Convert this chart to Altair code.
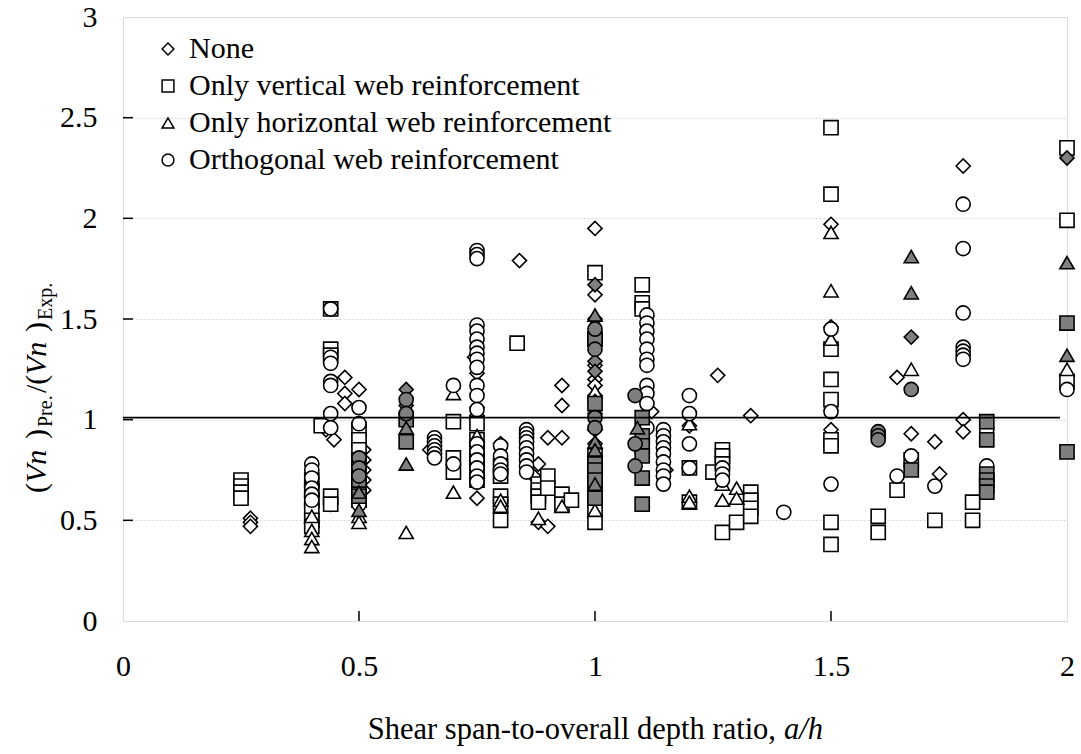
import altair as alt
import pandas as pd

# ---- measured points: a/h and (Vn)pre/(Vn)exp, one pair of lists per marker group ----
none_open_x = [0.27, 0.27, 0.27, 0.40, 0.40, 0.40, 0.44, 0.43, 0.447, 0.47, 0.47, 0.47,
               0.50, 0.50, 0.51, 0.51, 0.51, 0.51, 0.51, 0.65, 0.745, 0.75, 0.75, 0.75, 0.75,
               0.80, 0.84, 0.87, 0.88, 0.88, 0.90, 0.90, 0.93, 0.93, 0.93,
               1.0, 1.0, 1.0, 1.0, 1.0, 1.0, 1.0, 1.0, 1.0, 1.0, 1.0, 1.0, 1.0,
               1.12, 1.15, 1.20, 1.20, 1.26, 1.33, 1.50, 1.50, 1.50, 1.64, 1.67, 1.72, 1.73,
               1.78, 1.78, 1.78]
none_open_y = [0.51, 0.49, 0.47, 0.67, 0.62, 0.58, 0.58, 0.95, 0.90, 1.21, 1.13, 1.08,
               1.15, 0.97, 0.85, 0.80, 0.75, 0.70, 0.65, 0.85, 1.31, 1.23, 1.06, 1.02, 0.61,
               0.88, 1.79, 0.72, 0.78, 0.49, 0.91, 0.47, 1.17, 1.07, 0.91,
               1.95, 1.62, 1.27, 1.20, 1.17, 1.12, 1.03, 0.95, 0.88, 0.78, 0.72, 0.65, 0.57,
               1.04, 0.75, 0.97, 0.76, 1.22, 1.02, 1.97, 1.46, 0.95, 1.21, 0.93, 0.89, 0.73,
               2.26, 1.00, 0.94]

none_grey_x = [0.60, 0.60, 1.0, 1.0, 1.0, 1.0, 1.0, 1.67, 2.0]
none_grey_y = [1.15, 1.07, 1.67, 1.50, 1.29, 1.24, 1.09, 1.41, 2.30]

vert_open_x = [0.25, 0.25, 0.25, 0.25, 0.40, 0.40, 0.40, 0.40, 0.40, 0.40,
               0.44, 0.44, 0.44, 0.44, 0.44, 0.42,
               0.50, 0.50, 0.50, 0.50, 0.50, 0.50, 0.50, 0.50,
               0.70, 0.70, 0.70, 0.75, 0.75, 0.75, 0.75, 0.75, 0.75,
               0.80, 0.80, 0.80, 0.80, 0.80, 0.835, 0.88, 0.88, 0.88, 0.88, 0.90, 0.90,
               0.93, 0.93, 0.95,
               1.0, 1.0, 1.0, 1.0, 1.0, 1.0, 1.0, 1.0, 1.0,
               1.10, 1.10, 1.10, 1.20, 1.20, 1.25, 1.27, 1.27, 1.27, 1.27, 1.30,
               1.33, 1.33, 1.33, 1.33,
               1.50, 1.50, 1.50, 1.50, 1.50, 1.50, 1.50, 1.50, 1.50,
               1.60, 1.60, 1.64, 1.67, 1.72, 1.80, 1.80, 2.0, 2.0, 2.0]
vert_open_y = [0.70, 0.67, 0.64, 0.61, 0.70, 0.65, 0.60, 0.55, 0.50, 0.47,
               0.62, 0.58, 1.55, 1.35, 1.32, 0.97,
               0.95, 0.90, 0.85, 0.80, 0.75, 0.70, 0.65, 0.60,
               0.99, 0.81, 0.74, 0.98, 0.90, 0.85, 0.80, 0.75, 0.70,
               0.77, 0.72, 0.62, 0.58, 0.50, 1.38, 0.68, 0.65, 0.62, 0.59, 0.72, 0.66,
               0.63, 0.58, 0.60,
               1.73, 1.40, 0.82, 0.78, 0.72, 0.66, 0.60, 0.55, 0.49,
               1.67, 1.58, 1.55, 0.76, 0.59, 0.74, 0.85, 0.82, 0.78, 0.44, 0.49,
               0.64, 0.60, 0.56, 0.52,
               2.45, 2.12, 1.35, 1.20, 1.10, 0.90, 0.87, 0.49, 0.38,
               0.52, 0.44, 0.65, 0.80, 0.50, 0.59, 0.50, 2.35, 1.99, 1.19]

vert_grey_x = [0.50, 0.50, 0.60, 0.60, 1.0, 1.0, 1.0, 1.0, 1.0, 1.0,
               1.10, 1.10, 1.10, 1.10, 1.10, 1.10, 1.67,
               1.83, 1.83, 1.83, 1.83, 1.83, 1.83, 2.0, 2.0]
vert_grey_y = [0.70, 0.62, 1.00, 0.89, 1.40, 1.08, 0.78, 0.75, 0.70, 0.61,
               1.01, 0.92, 0.87, 0.82, 0.71, 0.58, 0.75,
               0.99, 0.90, 0.73, 0.70, 0.67, 0.64, 1.48, 0.84]

horiz_open_x = [0.40, 0.40, 0.40, 0.40, 0.50, 0.50, 0.60, 0.70, 0.70, 0.75, 0.75, 0.75,
                0.80, 0.80, 0.88, 0.93, 1.0, 1.0, 1.0, 1.0, 1.20, 1.20, 1.20,
                1.27, 1.27, 1.30, 1.30, 1.50, 1.50, 1.50, 1.67, 2.0]
horiz_open_y = [0.52, 0.45, 0.41, 0.37, 0.52, 0.49, 0.44, 1.13, 0.64, 0.92, 0.83, 0.74,
                0.60, 0.57, 0.51, 0.57, 1.14, 0.98, 0.80, 0.55, 0.98, 0.62, 0.59,
                0.68, 0.60, 0.66, 0.61, 1.93, 1.64, 1.40, 1.25, 1.25]

horiz_grey_x = [0.50, 0.50, 0.60, 0.60, 1.0, 1.0, 1.0, 1.0, 1.09, 1.67, 1.67, 2.0, 2.0]
horiz_grey_y = [0.64, 0.55, 0.96, 0.78, 1.52, 0.89, 0.85, 0.68, 0.96, 1.81, 1.63, 1.78, 1.32]

orth_open_x = [0.40, 0.40, 0.40, 0.40, 0.40, 0.40,
               0.44, 0.44, 0.44, 0.44, 0.44, 0.44, 0.44, 0.50, 0.50, 0.50,
               0.66, 0.66, 0.66, 0.66, 0.66, 0.66, 0.70, 0.70,
               0.75, 0.75, 0.75, 0.75, 0.75, 0.75, 0.75, 0.75, 0.75, 0.75,
               0.75, 0.75, 0.75, 0.75, 0.75, 0.75, 0.75, 0.75, 0.75,
               0.80, 0.80, 0.80, 0.80, 0.80,
               0.855, 0.855, 0.855, 0.855, 0.855, 0.855, 0.855, 0.855, 0.855,
               1.11, 1.11, 1.11, 1.11, 1.11, 1.11, 1.11, 1.11, 1.11, 1.11, 1.11,
               1.145, 1.145, 1.145, 1.145, 1.145, 1.145, 1.145, 1.145, 1.145,
               1.20, 1.20, 1.20, 1.20, 1.27, 1.27, 1.27, 1.40,
               1.50, 1.50, 1.50, 1.64, 1.67, 1.72,
               1.78, 1.78, 1.78, 1.78, 1.78, 1.78, 1.78, 1.83, 1.83, 2.0]
orth_open_y = [0.78, 0.75, 0.71, 0.66, 0.63, 0.60,
               1.55, 1.31, 1.28, 1.19, 1.17, 1.03, 0.96, 1.06, 0.98, 0.58,
               0.91, 0.89, 0.87, 0.85, 0.83, 0.81, 1.17, 0.78,
               1.84, 1.82, 1.80, 1.47, 1.44, 1.40, 1.36, 1.33, 1.30, 1.26,
               1.17, 1.12, 1.05, 0.88, 0.84, 0.80, 0.76, 0.72, 0.69,
               0.87, 0.82, 0.78, 0.75, 0.73,
               0.95, 0.93, 0.91, 0.89, 0.86, 0.83, 0.80, 0.77, 0.74,
               1.52, 1.48, 1.44, 1.40, 1.35, 1.30, 1.27, 1.17, 1.13, 1.08, 0.96,
               0.95, 0.92, 0.89, 0.86, 0.83, 0.79, 0.75, 0.72, 0.68,
               1.12, 1.03, 0.88, 0.76, 0.76, 0.73, 0.70, 0.54,
               1.45, 1.04, 0.68, 0.72, 0.82, 0.67,
               2.07, 1.85, 1.53, 1.36, 1.34, 1.32, 1.30, 0.95, 0.77, 1.15]

orth_grey_x = [0.50, 0.50, 0.50, 0.60, 0.60, 1.0, 1.0, 1.0, 1.0, 1.085, 1.085, 1.085,
               1.60, 1.60, 1.60, 1.67]
orth_grey_y = [0.81, 0.76, 0.72, 1.10, 1.03, 1.45, 1.35, 1.01, 0.96, 1.12, 0.88, 0.77,
               0.94, 0.92, 0.90, 1.15]

kinds = ["None", "Only vertical web reinforcement",
         "Only horizontal web reinforcement", "Orthogonal web reinforcement"]
symbols = ["diamond", "square", "triangle-up", "circle"]

groups = [
    (kinds[0], "open", none_open_x, none_open_y),
    (kinds[1], "open", vert_open_x, vert_open_y),
    (kinds[2], "open", horiz_open_x, horiz_open_y),
    (kinds[3], "open", orth_open_x, orth_open_y),
    (kinds[0], "grey", none_grey_x, none_grey_y),
    (kinds[1], "grey", vert_grey_x, vert_grey_y),
    (kinds[2], "grey", horiz_grey_x, horiz_grey_y),
    (kinds[3], "grey", orth_grey_x, orth_grey_y),
]
rows = []
for i, (kind, tone, xs, ys) in enumerate(groups):
    for x, y in zip(xs, ys):
        rows.append({"ah": x, "ratio": y, "kind": kind, "tone": tone, "draw": i})
points = pd.DataFrame(rows)

x_ticks = [0.5, 1.0, 1.5]
y_ticks = [0.5, 1.0, 1.5, 2.0, 2.5]
ref_level = 1.01

FONT = "Liberation Serif"
W, H = 944, 604

x_scale = alt.Scale(domain=[0, 2], nice=False)
y_scale = alt.Scale(domain=[0, 3], nice=False)

x_axis = alt.Axis(values=[0, 0.5, 1, 1.5, 2], labelExpr="datum.value", grid=False,
                  ticks=False, domain=False, labelPadding=30, labelFont=FONT,
                  labelFontSize=30, labelColor="black", title=None, labelFlush=False)
y_axis = alt.Axis(values=[0, 0.5, 1, 1.5, 2, 2.5, 3], labelExpr="datum.value",
                  grid=True, gridColor="#d4d4d4", gridDash=[2, 2], gridWidth=1,
                  ticks=False, domain=False, labelPadding=26, labelFont=FONT,
                  labelFontSize=30, labelColor="black", title=None, labelFlush=False)

scatter = alt.Chart(points).mark_point(
    filled=True, size=200, stroke="black", strokeWidth=1.6, opacity=1
).encode(
    x=alt.X("ah:Q", scale=x_scale, axis=x_axis),
    y=alt.Y("ratio:Q", scale=y_scale, axis=y_axis),
    shape=alt.Shape("kind:N", scale=alt.Scale(domain=kinds, range=symbols),
                    legend=alt.Legend(title=None, orient="none", legendX=30, legendY=17,
                                      labelFont=FONT, labelFontSize=30, labelColor="black",
                                      labelLimit=0, symbolSize=140,
                                      symbolFillColor="white", symbolStrokeColor="black",
                                      symbolStrokeWidth=1.5, rowPadding=7, labelOffset=6)),
    fill=alt.Fill("tone:N", scale=alt.Scale(domain=["open", "grey"],
                                            range=["white", "#7f7f7f"]), legend=None),
    order=alt.Order("draw:Q"),
)

ref_line = alt.Chart(pd.DataFrame({"y": [ref_level], "x0": [0.0], "x1": [1.985]})).mark_rule(
    color="black", strokeWidth=1.6
).encode(x="x0:Q", x2="x1:Q", y="y:Q")

x_tick_marks = alt.Chart(pd.DataFrame({"t": x_ticks})).mark_rule(
    color="black", strokeWidth=1.5
).encode(x="t:Q", y=alt.value(H), y2=alt.value(H - 10))

y_tick_marks = alt.Chart(pd.DataFrame({"t": y_ticks})).mark_rule(
    color="black", strokeWidth=1.5
).encode(y="t:Q", x=alt.value(0), x2=alt.value(10))

# x-axis title: upright text followed by italic a/h
x_title_a = alt.Chart(pd.DataFrame({"s": ["Shear span-to-overall depth ratio,"]})).mark_text(
    font=FONT, fontSize=30.5, align="right", baseline="alphabetic", color="black"
).encode(text="s:N", x=alt.value(653), y=alt.value(722))
x_title_b = alt.Chart(pd.DataFrame({"s": ["a/h"]})).mark_text(
    font=FONT, fontSize=30.5, fontStyle="italic", align="left", baseline="alphabetic",
    color="black"
).encode(text="s:N", x=alt.value(661), y=alt.value(722))

# y-axis title: (Vn )Pre./(Vn )Exp. written bottom-to-top with subscripts
y_parts = [
    ("(", "normal", 30, 0, 476),
    ("Vn", "italic", 30, 0, 466),
    (")", "normal", 30, 0, 422),
    ("Pre.", "normal", 20, 6, 410),
    ("/(", "normal", 30, 0, 376),
    ("Vn", "italic", 30, 0, 358),
    (")", "normal", 30, 0, 315),
    ("Exp.", "normal", 20, 6, 303),
]
y_title_layers = []
for txt, style, fs, shift, pos in y_parts:
    y_title_layers.append(
        alt.Chart(pd.DataFrame({"s": [txt]})).mark_text(
            font=FONT, fontSize=fs, fontStyle=style, align="left", baseline="alphabetic",
            angle=270, color="black"
        ).encode(text="s:N", x=alt.value(-77 + shift), y=alt.value(pos))
    )

chart = alt.layer(
    scatter, ref_line, x_tick_marks, y_tick_marks, x_title_a, x_title_b, *y_title_layers
).properties(
    width=W, height=H,
    autosize=alt.AutoSizeParams(type="none"),
    padding={"left": 123, "top": 17, "right": 14, "bottom": 133},
).configure_view(
    stroke="black", strokeWidth=2
).configure_axis(
    labelFont=FONT
).configure_legend(
    labelFont=FONT
).configure_text(
    font=FONT
).configure(background="white")

chart.save("out.html", embed_options={"renderer": "svg", "actions": False})
